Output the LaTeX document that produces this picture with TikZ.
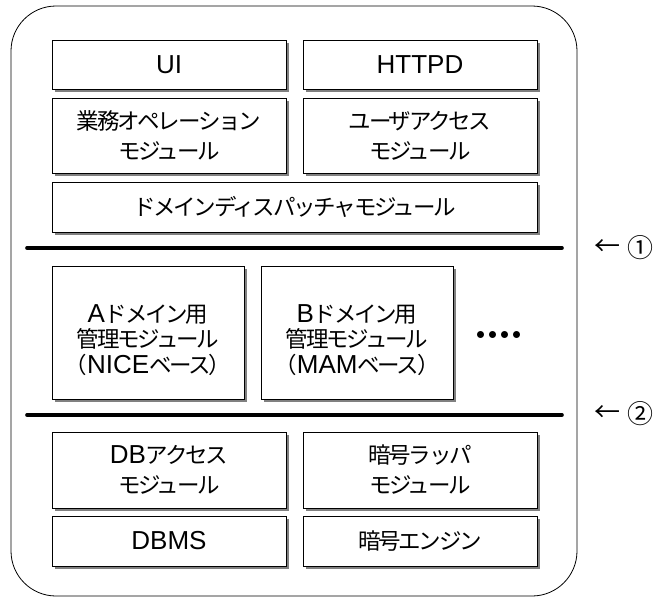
\documentclass[tikz,border=0pt]{standalone}
\usepackage{fontspec}
\setmainfont{Liberation Sans}[Scale=1.04]
\newfontfamily\jp[Scale=0.9, LetterSpace=-10]{Noto Sans CJK JP}
\newfontfamily\jpsym{Noto Sans CJK JP}
\newcommand\la[1]{{\rmfamily #1}}
\newcommand\moredot{\makebox[12.3pt]{\jpsym\bfseries ・}}
\newcommand\topgap{\rule{0pt}{33pt}}
\usetikzlibrary{shadows}

\tikzset{
  modbox/.style={draw=black, line width=0.9pt, fill=white, inner sep=0pt,
    align=center, font=\fontsize{25}{30}\selectfont\jp,
    drop shadow={shadow xshift=3pt, shadow yshift=-3pt, fill=black!50, opacity=1}},
  wide/.style={minimum width=234pt},
  tall/.style={minimum width=192pt, minimum height=133pt,
    font=\fontsize{25}{25.5}\selectfont\jp},
  layerline/.style={line width=3.6pt, line cap=round},
  marker/.style={inner sep=0pt, font=\fontsize{26}{26}\selectfont\jpsym},
}

\begin{document}
\begin{tikzpicture}[x=1pt, y=-1pt]
  \useasboundingbox (0,0) rectangle (654,598);

  % enclosing frame
  \node[draw=black, line width=0.8pt, rounded corners=45pt, inner sep=0pt,
        minimum width=566pt, minimum height=590pt] (frame) at (294,301) {};

  % upper layer
  \node[modbox, wide, minimum height=49pt] (ui)    at (169,64.5) {\la{UI}};
  \node[modbox, wide, minimum height=49pt] (httpd) at (420,64.5) {\la{HTTPD}};
  \node[modbox, wide, minimum height=75pt] (ops)   at (169,135.5) {業務オペレーション\\モジュール};
  \node[modbox, wide, minimum height=75pt] (uacc)  at (420,135.5) {ユーザアクセス\\モジュール};
  \node[modbox, minimum width=485pt, minimum height=50pt] (disp) at (294.5,207) {ドメインディスパッチャモジュール};

  % boundary 1
  \coordinate (b1w) at (27,248);
  \coordinate (b1e) at (562,248);
  \draw[layerline] (b1w) -- (b1e);

  % domain management layer
  \node[modbox, tall] (amod) at (148,332.5)
        {\topgap\la{A}ドメイン用\\管理モジュール\\（\la{NICE}ベース）};
  \node[modbox, tall] (bmod) at (357,332.5)
        {\topgap\la{B}ドメイン用\\管理モジュール\\（\la{MAM}ベース）};
  \node[inner sep=0pt, font=\fontsize{25}{25}\selectfont] (more) at (499,338)
        {\moredot\moredot\moredot\moredot};

  % boundary 2
  \coordinate (b2w) at (27,415);
  \coordinate (b2e) at (562,415);
  \draw[layerline] (b2w) -- (b2e);

  % lower layer
  \node[modbox, wide, minimum height=76pt] (dbacc)    at (169,470) {\la{DB}アクセス\\モジュール};
  \node[modbox, wide, minimum height=76pt] (crwrap)   at (420,470) {暗号ラッパ\\モジュール};
  \node[modbox, wide, minimum height=50pt] (dbms)     at (169,541) {\la{DBMS}};
  \node[modbox, wide, minimum height=50pt] (crengine) at (420,541) {暗号エンジン};

  % boundary markers
  \node[marker] (arr1) at (607.5,248) {←};
  \node[marker] (num1) at (640.5,248) {①};
  \node[marker] (arr2) at (607.5,414) {←};
  \node[marker] (num2) at (640.5,414) {②};
\end{tikzpicture}
\end{document}
